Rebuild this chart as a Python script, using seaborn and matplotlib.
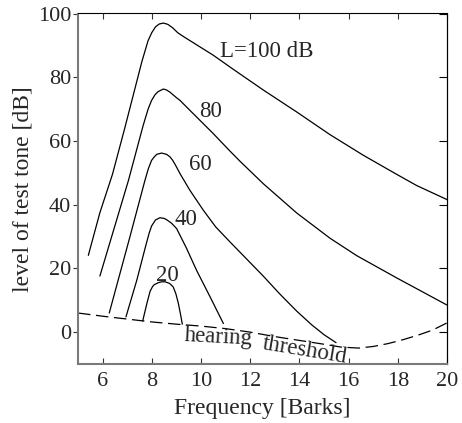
import matplotlib
matplotlib.use("Agg")
import matplotlib.pyplot as plt
import seaborn as sns
import pandas as pd

# ---- data ----
bark_100 = [5.42, 5.89, 6.4, 6.9, 7.3, 7.6, 7.85, 8.0, 8.15, 8.3, 8.47, 8.65, 8.85, 9.05, 9.2, 9.3,
            10.5, 11.18, 11.59, 12.53, 13.89, 15.24, 16.6, 17.96, 18.77, 20.0]
db_100 = [24.1, 37.5, 49.5, 64.0, 76.0, 85.0, 91.5, 94.0, 95.8, 96.7, 97.0, 96.6, 95.5, 94.0, 93.2, 92.7,
          86.9, 83.2, 81.0, 76.0, 69.1, 62.0, 55.5, 49.5, 46.0, 41.6]

bark_80 = [5.89, 6.4, 7.05, 7.65, 7.85, 7.99, 8.13, 8.26, 8.47, 8.6, 8.74, 9.0, 9.15, 9.42, 10.5, 11.18,
           11.59, 12.53, 13.89, 15.24, 16.33, 17.96, 20.0]
db_80 = [17.6, 30.8, 47.6, 64.9, 70.0, 72.7, 74.5, 75.5, 76.3, 76.0, 75.3, 73.6, 72.7, 70.6, 62.3, 56.8,
         53.6, 46.6, 37.4, 29.5, 24.0, 17.0, 8.5]

bark_60 = [6.27, 7.11, 7.72, 7.86, 7.99, 8.1, 8.2, 8.4, 8.6, 8.74, 8.85, 8.95, 9.15, 9.55, 10.1,
           10.6, 11.18, 12.0, 12.53, 13.2, 13.89, 14.5, 15.0, 15.49]
db_60 = [6.0, 29.9, 47.6, 51.3, 53.9, 55.0, 55.8, 56.2, 55.8, 55.0, 53.9, 52.6, 49.7, 44.5, 38.2,
         33.0, 28.3, 21.8, 17.6, 12.0, 6.6, 2.3, -0.8, -3.3]

bark_40 = [6.95, 7.39, 7.75, 7.89, 7.99, 8.15, 8.33, 8.5, 8.6, 8.8, 9.01, 9.4, 9.82, 10.4, 10.91]
db_40 = [4.8, 16.3, 27.0, 31.0, 33.3, 35.2, 35.9, 35.7, 35.3, 34.2, 32.5, 26.5, 19.4, 10.6, 2.7]

bark_20 = [7.63, 7.8, 7.93, 8.03, 8.1, 8.26, 8.4, 8.54, 8.72, 8.87, 8.98, 9.08, 9.17, 9.24]
db_20 = [3.5, 9.0, 12.8, 14.3, 14.9, 15.5, 15.8, 15.8, 15.3, 14.2, 12.0, 9.0, 5.5, 2.5]

bark_thr = [5.0, 6.0, 7.0, 8.0, 9.0, 10.0, 11.0, 12.0, 13.0, 14.0, 15.0, 15.7, 16.4, 17.0,
            17.6, 18.2, 18.8, 19.4, 20.0]
db_thr = [6.0, 5.0, 4.1, 3.2, 2.5, 1.9, 1.1, 0.0, -1.4, -2.6, -3.8, -4.7, -5.0, -4.5,
          -3.6, -2.4, -1.0, 0.6, 2.9]

curve_labels = ["L=100 dB", "80", "60", "40", "20"]
label_x = [12.68, 10.37, 9.96, 9.38, 8.63]
label_y = [86.5, 67.5, 51.0, 33.5, 16.0]

x_ticks = [6, 8, 10, 12, 14, 16, 18, 20]
y_ticks = [0, 20, 40, 60, 80, 100]

# ---- style ----
sns.set_style("white")
plt.rcParams["font.family"] = ["Liberation Serif", "DejaVu Serif"]

fig = plt.figure(figsize=(4.62, 4.23), dpi=100)
ax = fig.add_axes([78 / 462, 1 - 364 / 423, 369 / 462, 350.5 / 423])

curves = [(bark_100, db_100), (bark_80, db_80), (bark_60, db_60),
          (bark_40, db_40), (bark_20, db_20)]
for bx, dy in curves:
    df = pd.DataFrame({"bark": bx, "db": dy})
    sns.lineplot(data=df, x="bark", y="db", ax=ax, color="black", lw=0.9,
                 estimator=None, sort=False)

df_thr = pd.DataFrame({"bark": bark_thr, "db": db_thr})
sns.lineplot(data=df_thr, x="bark", y="db", ax=ax, color="black", lw=0.9,
             estimator=None, sort=False, linestyle=(0, (10, 4.5)))

for txt, tx, ty in zip(curve_labels, label_x, label_y):
    ax.text(tx, ty, txt, ha="center", va="baseline", fontsize=16.5)

ax.text(10.69, -3.45, "hearing", ha="center", va="baseline", fontsize=16.5,
        rotation=-3, rotation_mode="anchor")
ax.text(14.19, -7.5, "threshold", ha="center", va="baseline", fontsize=16.5,
        rotation=-9.4, rotation_mode="anchor")

ax.set_xlim(5, 20)
ax.set_ylim(-10, 100)
ax.set_xticks(x_ticks)
ax.set_yticks(y_ticks)
ax.set_xlabel("Frequency [Barks]", fontsize=17, labelpad=5)
ax.set_ylabel("level of test tone [dB]", fontsize=17, labelpad=3)

for side in ["left", "bottom"]:
    ax.spines[side].set_color("#7a7a7a")
    ax.spines[side].set_linewidth(1.5)
for side in ["top", "right"]:
    ax.spines[side].set_visible(True)
    ax.spines[side].set_color("black")
    ax.spines[side].set_linewidth(0.8)

ax.tick_params(axis="x", direction="in", top=True, bottom=True, length=4.5,
               width=0.8, color="#333333", labelsize=16, pad=6)
ax.tick_params(axis="y", direction="out", left=True, right=False, length=3.8,
               width=0.8, color="#333333", labelsize=16, pad=1)

sec = ax.secondary_yaxis("right")
sec.set_yticks(y_ticks)
sec.tick_params(direction="in", length=5.5, width=0.8, color="black",
                labelright=False)
sec.spines["right"].set_color("black")
sec.spines["right"].set_linewidth(0.8)

fig.savefig("out.png", dpi=100)
